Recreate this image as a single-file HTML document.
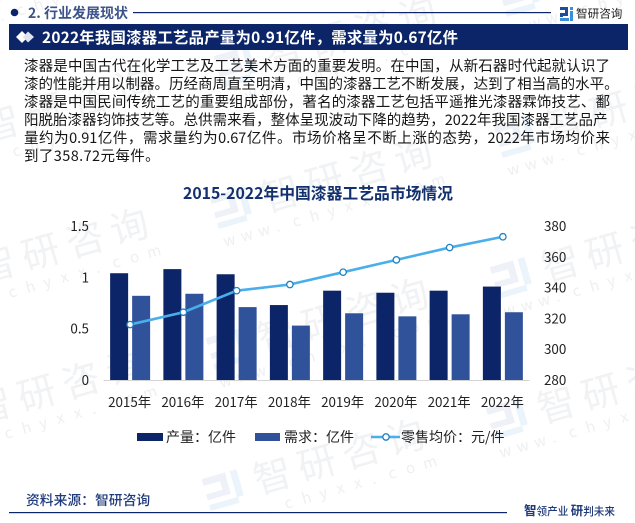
<!DOCTYPE html>
<html lang="zh">
<head>
<meta charset="utf-8">
<title>2015-2022年中国漆器工艺品市场情况</title>
<style>
html,body{margin:0;padding:0;background:#fff;width:635px;height:523px;overflow:hidden;}
body{position:relative;font-family:"Liberation Sans","Noto Sans CJK SC",sans-serif;}
#frame{position:absolute;left:0;top:0;width:635px;height:523px;overflow:hidden;contain:paint;}
svg{position:absolute;left:0;top:0;display:block;}
text{font-family:"Noto Sans CJK SC","Liberation Sans",sans-serif;}
.body-line{position:absolute;left:24px;white-space:nowrap;font-family:"Noto Sans CJK SC","Liberation Sans",sans-serif;font-size:14.5px;line-height:18px;color:#151515;}
.just{white-space:normal;text-align:justify;text-align-last:justify;height:18px;overflow:hidden;}
</style>
</head>
<body>
<div id="frame">
<svg id="wm" width="635" height="523" viewBox="0 0 635 523"></svg>

<svg width="635" height="60" viewBox="0 0 635 60">
  <circle cx="14.5" cy="12.5" r="3.8" fill="#0b2568"/>
  <text x="28" y="18" font-size="14" font-weight="700" fill="#3c5488">2. 行业发展现状</text>
  <rect x="133" y="12" width="418" height="1.2" fill="#0b2568"/>
  <g>
    <rect x="560" y="7" width="8" height="3" fill="#1b4f9c"/>
    <rect x="565" y="7" width="3" height="9" fill="#1b4f9c"/>
    <rect x="560" y="13" width="8" height="3" fill="#1b4f9c"/>
    <rect x="560" y="13" width="3" height="4" fill="#1b4f9c"/>
    <rect x="560" y="18" width="9" height="3" fill="#3a8fd8"/>
    <rect x="570" y="7" width="3" height="3" fill="#3a8fd8"/>
    <rect x="570" y="11" width="3" height="10" fill="#3a8fd8"/>
  </g>
  <text x="576" y="17.5" font-size="11.6" fill="#222">智研咨询</text>
  <rect x="9" y="24" width="619" height="26" fill="#0b2568"/>
  <polygon points="16,37 22,31 28,37 22,43" fill="#fff"/>
  <polygon points="23,37 28,31.5 34,37 28,42.5" fill="#dfe4ee"/>
  <text x="42" y="43" font-size="15.4" font-weight="700" fill="#fff" textLength="416" lengthAdjust="spacing">2022年我国漆器工艺品产量为0.91亿件，需求量为0.67亿件</text>
</svg>

<div>
  <div class="body-line just" style="top:57px;width:586px">漆器是中国古代在化学工艺及工艺美术方面的重要发明。在中国，从新石器时代起就认识了</div>
  <div class="body-line just" style="top:75px;width:594.6px">漆的性能并用以制器。历经商周直至明清，中国的漆器工艺不断发展，达到了相当高的水平。</div>
  <div class="body-line just" style="top:93px;width:586px">漆器是中国民间传统工艺的重要组成部份，著名的漆器工艺包括平遥推光漆器霖饰技艺、鄱</div>
  <div class="body-line just" style="top:111px;width:583.5px">阳脱胎漆器钧饰技艺等。总供需来看，整体呈现波动下降的趋势，2022年我国漆器工艺品产</div>
  <div class="body-line just" style="top:129px;width:586px">量约为0.91亿件，需求量约为0.67亿件。市场价格呈不断上涨的态势，2022年市场均价来</div>
  <div class="body-line" style="top:147px;letter-spacing:.4px">到了358.72元每件。</div>
</div>

<svg id="chart" width="635" height="523" viewBox="0 0 635 523">
  <text x="318" y="199" text-anchor="middle" font-size="15.8" font-weight="700" fill="#12306e">2015-2022年中国漆器工艺品市场情况</text>
</svg>

<svg width="635" height="523" viewBox="0 0 635 523">
  <text x="26" y="505" font-size="13.8" font-weight="500" fill="#1f3a7a">资料来源：智研咨询</text>
  <rect x="9" y="512" width="498" height="1.2" fill="#0b2568"/>
  <text x="524" y="515" font-size="10.6" font-weight="500" fill="#1f3a7a"><tspan font-size="12.5" font-weight="700">智</tspan>领产业 <tspan font-size="12.5" font-weight="700">研</tspan>判未来</text>
</svg>
</div>

<script>
// Chart data
const years = ['2015年','2016年','2017年','2018年','2019年','2020年','2021年','2022年'];
const production = [1.04, 1.08, 1.03, 0.73, 0.87, 0.85, 0.87, 0.91];
const demand = [0.82, 0.84, 0.71, 0.53, 0.65, 0.62, 0.64, 0.66];
const price = [316, 324, 338, 342, 350, 358, 366, 373];
const leftTicks = [0, 0.5, 1, 1.5];
const rightTicks = [280, 300, 320, 340, 360, 380];

const NS = 'http://www.w3.org/2000/svg';
const chart = document.getElementById('chart');

const plotLeft = 103.5, plotRight = 529.5, plotBottom = 380, plotTop = 226;
const band = (plotRight - plotLeft) / years.length;
function xCenter(i){ return plotLeft + band * (i + 0.5); }
function yLeft(v){ return plotBottom - (v - 0) / (1.5 - 0) * (plotBottom - plotTop); }
function yRight(v){ return plotBottom - (v - 280) / (380 - 280) * (plotBottom - plotTop); }

function mk(tag, attrs, parent){
  const el = document.createElementNS(NS, tag);
  for (const k in attrs) el.setAttribute(k, attrs[k]);
  (parent || chart).appendChild(el);
  return el;
}

// Axis baseline
const baseline = mk('line', {x1: plotLeft, x2: plotRight, y1: plotBottom + 0.5, y2: plotBottom + 0.5, stroke: '#d4d4d4', 'stroke-width': 1});



// Left ticks
leftTicks.forEach(function(t){
  const el = mk('text', {x: 89, y: yLeft(t) + 5, 'text-anchor': 'end', 'font-size': 13.4, fill: '#222'});
  el.textContent = String(t);
  
  
});

// Right ticks
rightTicks.forEach(function(t){
  const el = mk('text', {x: 544, y: yRight(t) + 5, 'font-size': 13.4, fill: '#222'});
  el.textContent = String(t);
  
  
});

// Bars and category labels
years.forEach(function(label, i){
  const c = xCenter(i);
  const p = mk('rect', {x: c - 20, y: yLeft(production[i]), width: 18, height: plotBottom - yLeft(production[i]), fill: '#0b2568'});
  
  
  const d = mk('rect', {x: c + 2, y: yLeft(demand[i]), width: 18, height: plotBottom - yLeft(demand[i]), fill: '#30529a'});
  
  
  const t = mk('text', {x: c - 0.5, y: 407, 'text-anchor': 'middle', 'font-size': 13.4, fill: '#222'});
  t.textContent = label;
  
  
});

// Price line
const line = mk('polyline', {
  points: price.map(function(v, i){ return xCenter(i) + ',' + yRight(v); }).join(' '),
  fill: 'none', stroke: '#4aaeea', 'stroke-width': 2.6
});



price.forEach(function(v, i){
  const pt = mk('circle', {cx: xCenter(i), cy: yRight(v), r: 3.2, fill: '#fff', stroke: '#1f82c4', 'stroke-width': 1.3});
  
  
});

// Legend
const legendProdSwatch = mk('rect', {x: 137, y: 433, width: 26, height: 8, fill: '#0b2568'});


const legendProdText = mk('text', {x: 166, y: 442, 'font-size': 14, fill: '#222'});
legendProdText.textContent = '产量：亿件';


const legendDemSwatch = mk('rect', {x: 255, y: 433, width: 25, height: 8, fill: '#30529a'});


const legendDemText = mk('text', {x: 284, y: 442, 'font-size': 14, fill: '#222'});
legendDemText.textContent = '需求：亿件';


const legendLine = mk('line', {x1: 371, x2: 400, y1: 437, y2: 437, stroke: '#4aaeea', 'stroke-width': 2.6});


const legendDot = mk('circle', {cx: 386, cy: 437, r: 3.2, fill: '#fff', stroke: '#1f82c4', 'stroke-width': 1.3});


const legendPriceText = mk('text', {x: 401, y: 442, 'font-size': 14, fill: '#222'});
legendPriceText.textContent = '零售均价：元/件';



// Watermark tiles: one glyph per element so anything past the page bottom can be dropped
const wm = document.getElementById('wm');
const wmName = '智研咨询';
const wmUrl = 'www.chyxx.com';
for (let col = -1; col < 5; col++) {
  for (let row = -3; row < 6; row++) {
    const ox = 498 + 284 * (col - 2) - 4 * row;
    const oy = 296 - 71 * (col - 2) + 141 * row;
    if (oy < -70 || oy > 560 || ox < -280 || ox > 640) continue;
    const g = mk('g', {transform: 'translate(' + ox + ' ' + oy + ') rotate(-16)'}, wm);
    
    
    mk('rect', {x: 0, y: -30, width: 24, height: 7, fill: '#eef1f7'}, g);
    mk('rect', {x: 17, y: -30, width: 7, height: 20, fill: '#eef1f7'}, g);
    mk('rect', {x: 0, y: -14, width: 24, height: 6, fill: '#eef1f7'}, g);
    mk('rect', {x: 0, y: -3, width: 30, height: 6, fill: '#ebf3fb'}, g);
    mk('rect', {x: 29, y: -30, width: 7, height: 27, fill: '#ebf3fb'}, g);
    Array.from(wmName).forEach(function(ch, k){
      const n = mk('text', {x: 50 + 46 * k, y: 0, 'font-size': 38, fill: '#f1f2f4'}, g);
      n.textContent = ch;
    });
    Array.from(wmUrl).forEach(function(ch, k){
      const u = mk('text', {x: 1 + 18 * k, y: 22, 'font-size': 15, fill: '#eeeff1'}, g);
      u.textContent = ch;
    });
    Array.from(g.children).forEach(function(el){
      if (el.getBoundingClientRect().bottom > 521) el.remove();
    });
    if (!g.children.length) g.remove();
  }
}
</script>
</body>
</html>
